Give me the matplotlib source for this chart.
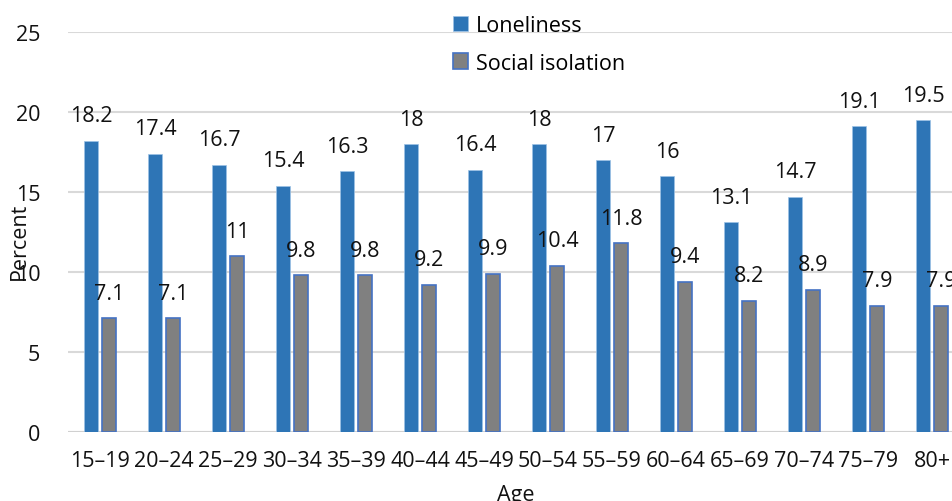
import matplotlib.pyplot as plt
import numpy as np

plt.rcParams['font.family'] = ['Open Sans', 'DejaVu Sans']

# age bands and rates (%)
ages = ["15–19", "20–24", "25–29", "30–34", "35–39", "40–44", "45–49",
        "50–54", "55–59", "60–64", "65–69", "70–74", "75–79", "80+"]
loneliness = [18.2, 17.4, 16.7, 15.4, 16.3, 18, 16.4, 18, 17, 16, 13.1, 14.7, 19.1, 19.5]
social_isolation = [7.1, 7.1, 11, 9.8, 9.8, 9.2, 9.9, 10.4, 11.8, 9.4, 8.2, 8.9, 7.9, 7.9]

blue = '#2E75B6'
grey = '#808080'

fig = plt.figure(figsize=(9.53, 5.02), dpi=100)
ax = fig.add_axes([68 / 953, 1 - 433 / 502, 896 / 953, 400 / 502])

x = np.arange(len(ages))
w = 0.22
off = 0.14
ax.bar(x - off, loneliness, w, color=blue, edgecolor='#9DC3E6', linewidth=0.5,
       label='Loneliness', zorder=3)
ax.bar(x + off, social_isolation, w, color=grey, edgecolor='#4472C4', linewidth=1.2,
       label='Social isolation', zorder=3)

for xi, v in zip(x - off, loneliness):
    ax.annotate(f'{v:g}', (xi, v), xytext=(0, 18), textcoords='offset points',
                ha='center', va='center', fontsize=15.5, color='#111111')
for xi, v in zip(x + off, social_isolation):
    ax.annotate(f'{v:g}', (xi, v), xytext=(0, 18), textcoords='offset points',
                ha='center', va='center', fontsize=15.5, color='#111111')

ax.set_xlim(-0.5, len(ages) - 0.5)
ax.set_ylim(0, 25)
ax.set_yticks(range(0, 26, 5))
ax.set_xticks(x)
ax.set_xticklabels(ages)
ax.tick_params(axis='both', length=0, labelsize=15.5, colors='#111111')
ax.tick_params(axis='x', pad=13)
ax.tick_params(axis='y', pad=20)
ax.grid(axis='y', color='#D9D9D9', linewidth=1.5, zorder=0)
for s in ax.spines.values():
    s.set_visible(False)
ax.axhline(0, color='#D0D0D0', linewidth=1.5, zorder=2)

ax.set_ylabel('Percent', fontsize=15.5, color='#111111')
ax.yaxis.set_label_coords(-0.042, 0.48)
ax.set_xlabel('Age', fontsize=15.5, color='#111111')
ax.xaxis.set_label_coords(0.5, -0.13)

ax.legend(loc='upper left', bbox_to_anchor=(366 / 896, 1.09), frameon=False,
          fontsize=15.5, handlelength=0.7, handleheight=0.7, labelspacing=0.75,
          handletextpad=0.35)

fig.savefig('out.png', dpi=100)
